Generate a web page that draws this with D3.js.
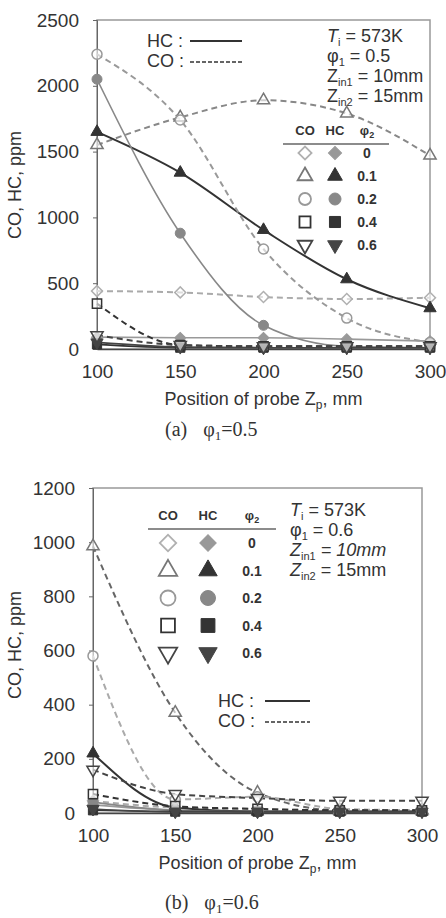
<!DOCTYPE html>
<html>
<head>
<meta charset="utf-8">
<script src="https://cdn.jsdelivr.net/npm/d3@7/dist/d3.min.js"></script>
<style>
  body { margin: 0; background: #fff; }
  text { font-family: "Liberation Sans", Arial, sans-serif; fill: #333; }
  .serif { font-family: "Liberation Serif", "Times New Roman", serif; }
</style>
</head>
<body>
<svg id="chart" width="446" height="918"></svg>
<script>
// probe positions Zp (mm)
const positions = [100, 150, 200, 250, 300]
const phi2 = ["0", "0.1", "0.2", "0.4", "0.6"]

// (a) phi1 = 0.5
const coA_0 = [440, 430, 395, 380, 390]
const coA_01 = [1550, 1760, 1890, 1790, 1470]
const coA_02 = [2240, 1740, 760, 235, 50]
const coA_04 = [345, 30, 20, 20, 20]
const coA_06 = [105, 30, 20, 20, 20]
const hcA_0 = [90, 85, 85, 75, 60]
const hcA_01 = [1650, 1340, 905, 530, 310]
const hcA_02 = [2050, 880, 180, 20, 10]
const hcA_04 = [35, 10, 10, 10, 10]
const hcA_06 = [50, 15, 10, 10, 10]
const yTicksA = [0, 500, 1000, 1500, 2000, 2500]

// (b) phi1 = 0.6
const coB_0 = [45, 20, 15, 10, 10]
const coB_01 = [985, 370, 75, 10, 10]
const coB_02 = [580, 50, 60, 15, 10]
const coB_04 = [70, 25, 15, 10, 10]
const coB_06 = [160, 70, 55, 45, 45]
const hcB_0 = [30, 10, 5, 5, 5]
const hcB_01 = [220, 20, 5, 5, 5]
const hcB_02 = [40, 10, 5, 5, 5]
const hcB_04 = [10, 5, 5, 5, 5]
const hcB_06 = [15, 5, 5, 5, 5]
const yTicksB = [0, 200, 400, 600, 800, 1000, 1200]

// marker look per phi2
const styles = {
  "0":   { shape: "diamond", co: "#b0b0b0", hc: "#999", line: "#aaa" },
  "0.1": { shape: "tri",     co: "#777",    hc: "#333", line: "#888" },
  "0.2": { shape: "circle",  co: "#999",    hc: "#888", line: "#999" },
  "0.4": { shape: "square",  co: "#333",    hc: "#333", line: "#333" },
  "0.6": { shape: "down",    co: "#444",    hc: "#444", line: "#444" }
}

function marker(shape, r) {
  if (shape == "circle") return d3.symbol(d3.symbolCircle, Math.PI * r * r)()
  if (shape == "square") return d3.symbol(d3.symbolSquare, 3.4 * r * r)()
  if (shape == "diamond") return d3.symbol(d3.symbolSquare, 2.4 * r * r)()
  return d3.symbol(d3.symbolTriangle, 2.6 * r * r)()
}
function rot(shape) {
  if (shape == "diamond") return 45
  if (shape == "down") return 180
  return 0
}

const svg = d3.select("#chart")

function drawPanel(p) {
  const x = d3.scaleLinear().domain([100, 300]).range([p.left, p.right])
  const y = d3.scaleLinear().domain([0, p.yMax]).range([p.bottom, p.top])
  const g = svg.append("g")

  // frame
  g.append("rect")
    .attr("x", p.left).attr("y", p.top)
    .attr("width", p.right - p.left).attr("height", p.bottom - p.top)
    .attr("fill", "none").attr("stroke", "#999").attr("stroke-width", 1.5)

  const yAxis = d3.axisLeft(y).tickValues(p.yTicks).tickFormat(d3.format("d")).tickSize(4).tickPadding(14)
  g.append("g").attr("transform", "translate(" + p.left + ",0)").call(yAxis)
    .call(a => a.select(".domain").attr("stroke", "#666"))
    .call(a => a.selectAll(".tick line").attr("stroke", "#666"))
    .selectAll("text").style("font-size", "19px").attr("fill", "#333")

  const xAxis = d3.axisBottom(x).tickValues(positions).tickSize(0).tickPadding(16)
  g.append("g").attr("transform", "translate(0," + p.bottom + ")").call(xAxis)
    .call(a => a.select(".domain").attr("stroke", "#444").attr("stroke-width", 1.5))
    .selectAll("text").style("font-size", "19px").attr("fill", "#333")

  // axis titles
  const xt = g.append("text").attr("x", (p.left + p.right) / 2).attr("y", p.bottom + 56)
    .attr("text-anchor", "middle").style("font-size", "18px")
  xt.append("tspan").text("Position of probe Z")
  xt.append("tspan").attr("dy", 4).style("font-size", "12px").text("p")
  xt.append("tspan").attr("dy", -4).text(", mm")

  g.append("text").attr("transform", "translate(21," + p.yTitle + ") rotate(-90)")
    .attr("text-anchor", "middle").style("font-size", "18px").text("CO, HC, ppm")

  const line = d3.line().x((d, i) => x(positions[i])).y(d => y(d)).curve(d3.curveMonotoneX)

  // series
  phi2.forEach(k => {
    const s = styles[k]
    const co = p.co[k], hc = p.hc[k]
    g.append("path").attr("d", line(co)).attr("fill", "none")
      .attr("stroke", p.coLine && p.coLine[k] || s.line).attr("stroke-width", 2)
      .attr("stroke-dasharray", "6,4")
    g.append("path").attr("d", line(hc)).attr("fill", "none")
      .attr("stroke", s.hc).attr("stroke-width", k == "0.1" ? 2 : 1.6)
  })
  phi2.forEach(k => {
    const s = styles[k]
    g.selectAll(null).data(p.hc[k]).enter().append("path")
      .attr("d", marker(s.shape, 5))
      .attr("transform", (d, i) => "translate(" + x(positions[i]) + "," + y(d) + ") rotate(" + rot(s.shape) + ")")
      .attr("fill", s.hc).attr("stroke", s.hc).attr("stroke-width", 1)
    g.selectAll(null).data(p.co[k]).enter().append("path")
      .attr("d", marker(s.shape, 5))
      .attr("transform", (d, i) => "translate(" + x(positions[i]) + "," + y(d) + ") rotate(" + rot(s.shape) + ")")
      .attr("fill", "#fff").attr("fill-opacity", 0.6).attr("stroke", s.co).attr("stroke-width", 1.5)
  })

  // HC / CO line legend
  const L = p.lineLegend
  g.append("text").attr("x", L.x).attr("y", L.y + 6).style("font-size", "18px").text("HC :")
  g.append("line").attr("x1", L.lx1).attr("x2", L.lx2).attr("y1", L.y).attr("y2", L.y)
    .attr("stroke", "#333").attr("stroke-width", 2)
  g.append("text").attr("x", L.x).attr("y", L.y + 26).style("font-size", "18px").text("CO :")
  g.append("line").attr("x1", L.lx1).attr("x2", L.lx2).attr("y1", L.y + 21).attr("y2", L.y + 21)
    .attr("stroke", "#333").attr("stroke-width", 1.5).attr("stroke-dasharray", "4,2")

  // conditions
  const C = p.cond
  const t1 = g.append("text").attr("x", C.x).attr("y", C.y).style("font-size", "18px")
  t1.append("tspan").style("font-style", "italic").text("T")
  t1.append("tspan").attr("dy", 4).style("font-size", "11px").text("i")
  t1.append("tspan").attr("dy", -4).text(" = 573K")
  const t2 = g.append("text").attr("x", C.x).attr("y", C.y + C.dy).style("font-size", "18px")
  t2.append("tspan").text("φ")
  t2.append("tspan").attr("dy", 4).style("font-size", "11px").text("1")
  t2.append("tspan").attr("dy", -4).text(" = " + p.phi1)
  ;[["in1", "10mm", p.italicZ1], ["in2", "15mm", false]].forEach((z, i) => {
    const t = g.append("text").attr("x", C.x).attr("y", C.y + C.dy * (i + 2)).style("font-size", "18px")
    t.append("tspan").style("font-style", p.italicZ1 ? "italic" : "normal").text("Z")
    t.append("tspan").attr("dy", 4).style("font-size", "11px").text(z[0])
    t.append("tspan").attr("dy", -4).style("font-style", z[2] ? "italic" : "normal").text(" = " + z[1])
  })

  // symbol table
  const T = p.table
  ;[["CO", T.cx], ["HC", T.hx]].forEach(h => {
    g.append("text").attr("x", h[1]).attr("y", T.y).attr("text-anchor", "middle")
      .style("font-size", "13px").style("font-weight", "bold").attr("fill", "#444").text(h[0])
  })
  const ph = g.append("text").attr("x", T.lx).attr("y", T.y).attr("text-anchor", "middle")
    .style("font-size", "13px").style("font-weight", "bold").attr("fill", "#444")
  ph.append("tspan").text("φ")
  ph.append("tspan").attr("dy", 3).style("font-size", "9px").text("2")
  g.append("line").attr("x1", T.x1).attr("x2", T.x2).attr("y1", T.y + 9).attr("y2", T.y + 9)
    .attr("stroke", "#666").attr("stroke-width", 1.5)
  phi2.forEach((k, i) => {
    const s = styles[k]
    const yy = T.y + T.first + i * T.step
    g.append("path").attr("d", marker(s.shape, T.r))
      .attr("transform", "translate(" + T.cx + "," + yy + ") rotate(" + rot(s.shape) + ")")
      .attr("fill", "#fff").attr("stroke", s.co).attr("stroke-width", 1.8)
    g.append("path").attr("d", marker(s.shape, T.r))
      .attr("transform", "translate(" + T.hx + "," + yy + ") rotate(" + rot(s.shape) + ")")
      .attr("fill", s.hc).attr("stroke", s.hc)
    g.append("text").attr("x", T.lx).attr("y", yy + 5).attr("text-anchor", "middle")
      .style("font-size", "14px").style("font-weight", "bold").attr("fill", "#444").text(k)
  })

  // caption
  const cap = g.append("text").attr("class", "serif").attr("x", 165).attr("y", p.capY)
    .style("font-size", "20px").attr("fill", "#222")
  cap.append("tspan").attr("class", "serif").text("(" + p.label + ")")
  cap.append("tspan").attr("class", "serif").attr("dx", 16).text("φ")
  cap.append("tspan").attr("class", "serif").attr("dy", 4).style("font-size", "13px").text("1")
  cap.append("tspan").attr("class", "serif").attr("dy", -4).text("=" + p.phi1)
}

drawPanel({
  left: 97, right: 430, top: 20, bottom: 349, yMax: 2500, yTicks: yTicksA, yTitle: 185,
  co: { "0": coA_0, "0.1": coA_01, "0.2": coA_02, "0.4": coA_04, "0.6": coA_06 },
  hc: { "0": hcA_0, "0.1": hcA_01, "0.2": hcA_02, "0.4": hcA_04, "0.6": hcA_06 },
  lineLegend: { x: 147, y: 41, lx1: 190, lx2: 242 },
  cond: { x: 327, y: 42, dy: 20 },
  table: { cx: 305, hx: 335, lx: 367, x1: 283, x2: 389, y: 135, first: 18, step: 23, r: 6 },
  phi1: "0.5", label: "a", capY: 436, italicZ1: false
})

drawPanel({
  left: 93, right: 422, top: 488, bottom: 813, yMax: 1200, yTicks: yTicksB, yTitle: 645,
  co: { "0": coB_0, "0.1": coB_01, "0.2": coB_02, "0.4": coB_04, "0.6": coB_06 },
  hc: { "0": hcB_0, "0.1": hcB_01, "0.2": hcB_02, "0.4": hcB_04, "0.6": hcB_06 },
  coLine: { "0.1": "#666", "0.2": "#aaa" },
  lineLegend: { x: 218, y: 701, lx1: 265, lx2: 310 },
  cond: { x: 290, y: 516, dy: 20 },
  table: { cx: 168, hx: 208, lx: 252, x1: 148, x2: 276, y: 520, first: 23, step: 27.5, r: 7.5 },
  phi1: "0.6", label: "b", capY: 909, italicZ1: true
})
</script>
</body>
</html>
